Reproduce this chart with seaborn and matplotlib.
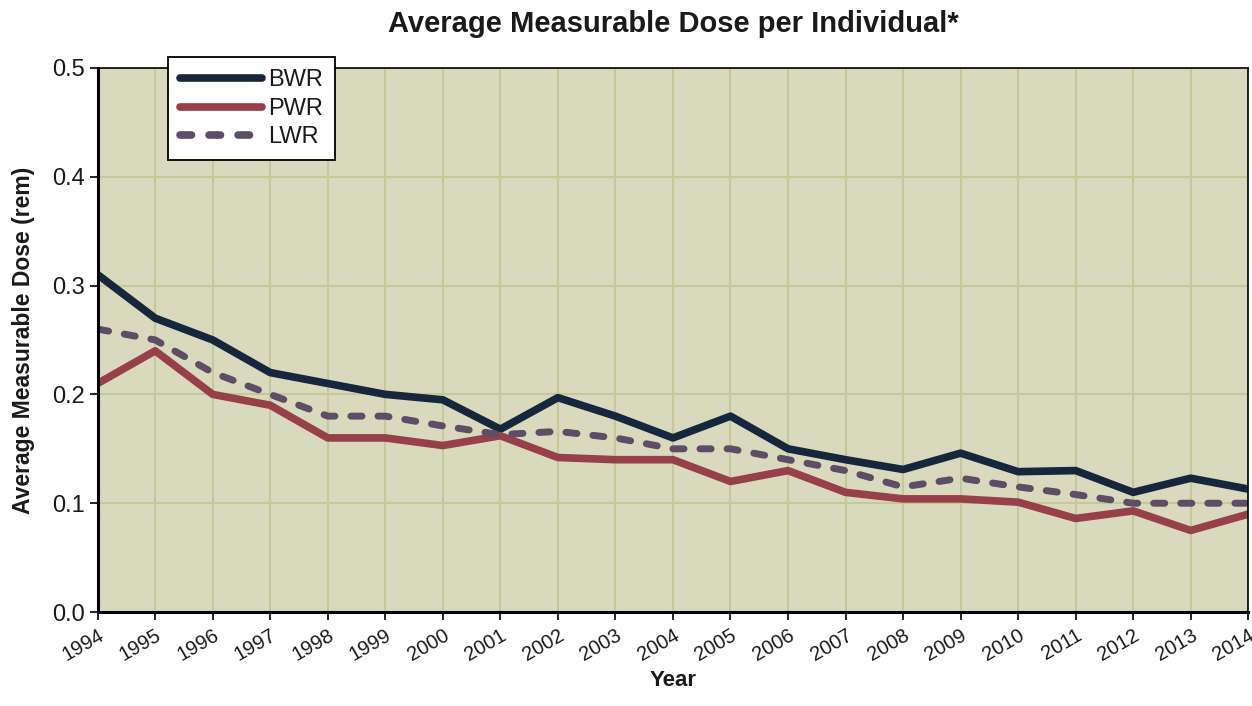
import pandas as pd
import matplotlib
matplotlib.use("Agg")
import matplotlib.pyplot as plt
import seaborn as sns

years = list(range(1994, 2015))
bwr = [0.31, 0.27, 0.25, 0.22, 0.21, 0.20, 0.195, 0.168, 0.197, 0.18, 0.16,
       0.18, 0.15, 0.14, 0.131, 0.146, 0.129, 0.13, 0.11, 0.123, 0.113]
pwr = [0.21, 0.24, 0.20, 0.19, 0.16, 0.16, 0.153, 0.162, 0.142, 0.14, 0.14,
       0.12, 0.13, 0.11, 0.104, 0.104, 0.101, 0.086, 0.093, 0.075, 0.09]
lwr = [0.26, 0.25, 0.22, 0.20, 0.18, 0.18, 0.171, 0.163, 0.166, 0.16, 0.15,
       0.15, 0.14, 0.13, 0.115, 0.123, 0.115, 0.108, 0.10, 0.10, 0.10]

df = pd.DataFrame({"Year": years, "BWR": bwr, "PWR": pwr, "LWR": lwr})

sns.set_style("ticks")
plt.rcParams['font.family'] = ['Liberation Sans', 'DejaVu Sans']
plt.rcParams['text.color'] = '#1a1a1a'
plt.rcParams['xtick.color'] = 'black'
plt.rcParams['ytick.color'] = 'black'
plt.rcParams['xtick.labelcolor'] = '#1a1a1a'
plt.rcParams['ytick.labelcolor'] = '#1a1a1a'
plt.rcParams['axes.labelcolor'] = '#1a1a1a'

fig = plt.figure(figsize=(12.52, 7.06), dpi=100)
ax = fig.add_axes([0.078, 0.133, 0.919, 0.771])
ax.set_facecolor("#d9d9bd")

sns.lineplot(x="Year", y="BWR", data=df, ax=ax, color="#15263d", lw=5.5, label="BWR")
sns.lineplot(x="Year", y="PWR", data=df, ax=ax, color="#97404a", lw=5.5, label="PWR")
sns.lineplot(x="Year", y="LWR", data=df, ax=ax, color="#5e4d66", lw=5,
             label="LWR", dashes=False)
ax.lines[2].set_dashes([1.6, 2.3])
ax.lines[2].set_dash_capstyle("round")

ax.set_xlim(1994, 2014)
ax.set_ylim(0, 0.5)
ax.set_xticks(years)
ax.set_xticklabels([str(y) for y in years], rotation=30, ha="right",
                   rotation_mode="anchor", fontsize=14.5)
ax.set_yticks([0.0, 0.1, 0.2, 0.3, 0.4, 0.5])
ax.set_yticklabels(["0.0", "0.1", "0.2", "0.3", "0.4", "0.5"], fontsize=17)
ax.grid(True, color="#c5c99a", lw=1.5)
ax.set_axisbelow(True)
ax.tick_params(axis="both", length=6, width=1.2, color="black")
for s in ["left", "bottom"]:
    ax.spines[s].set_linewidth(2.2)
    ax.spines[s].set_color("black")
for s in ["top", "right"]:
    ax.spines[s].set_linewidth(1.2)
    ax.spines[s].set_color("black")

ax.set_xlabel("Year", fontsize=16, fontweight="bold", labelpad=4)
ax.set_ylabel("Average Measurable Dose (rem)", fontsize=16.5, fontweight="bold", labelpad=12)
ax.set_title("Average Measurable Dose per Individual*", fontsize=21,
             fontweight="bold", pad=26)

leg = ax.legend(loc="upper left", bbox_to_anchor=(0.061, 1.019), frameon=True,
                fancybox=False, edgecolor="black", framealpha=1, fontsize=17,
                handlelength=3.5, handletextpad=0.25, borderpad=0.5,
                labelspacing=0.28, borderaxespad=0)
leg.get_frame().set_linewidth(1.3)
for h in leg.get_lines():
    h.set_linewidth(5.5)
    h.set_solid_capstyle("round")
leg.get_lines()[2].set_dashes([1.5, 2.3])
leg.get_lines()[2].set_dash_capstyle("round")

fig.savefig("out.png", dpi=100)
